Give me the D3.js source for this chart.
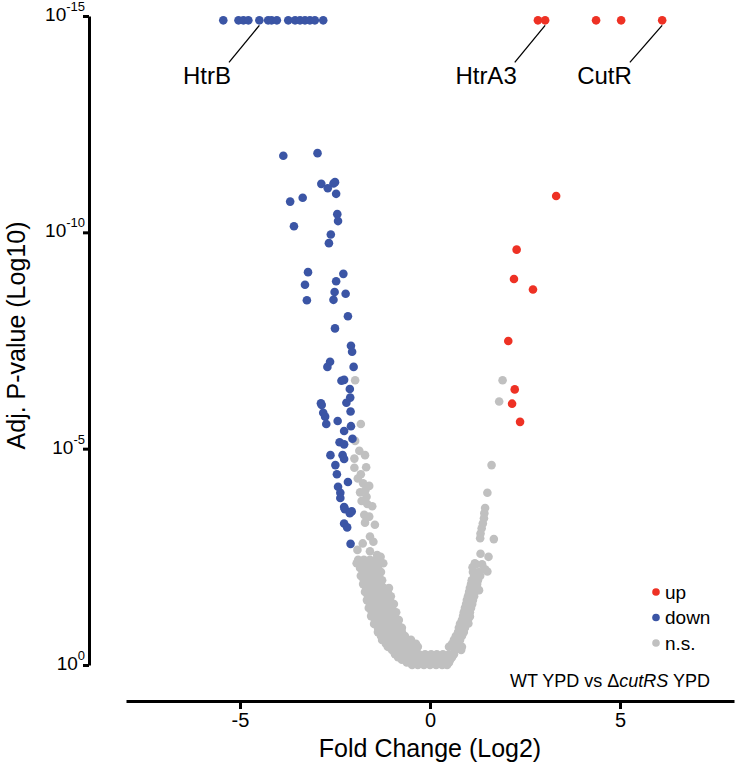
<!DOCTYPE html>
<html>
<head>
<meta charset="utf-8">
<script src="https://cdn.jsdelivr.net/npm/d3@7"></script>
<style>
  body { margin: 0; background: #fff; }
  text { font-family: "Liberation Sans", Arial, sans-serif; fill: #000; }
</style>
</head>
<body>
<div id="chart"></div>
<script>
// fold change (log2), -log10(adj. p)
const upPoints = [
  [2.84, 14.9], [3.03, 14.9], [4.37, 14.9], [5.03, 14.9], [6.11, 14.9],
  [3.32, 10.84], [2.28, 9.60], [2.21, 8.92], [2.71, 8.68], [2.06, 7.49],
  [2.23, 6.37], [2.16, 6.04], [2.37, 5.62]
];

const downPoints = [
  [-5.44, 14.9], [-5.04, 14.9], [-4.91, 14.9], [-4.78, 14.9], [-4.49, 14.9],
  [-4.26, 14.9], [-4.17, 14.9], [-4.03, 14.9], [-3.73, 14.9], [-3.55, 14.9],
  [-3.42, 14.9], [-3.29, 14.9], [-3.16, 14.9], [-3.03, 14.9], [-2.81, 14.9],
  [-3.86, 11.77], [-2.96, 11.83], [-2.86, 11.12], [-2.69, 11.02], [-2.54, 11.13],
  [-2.50, 11.16], [-2.47, 10.89], [-3.35, 10.80], [-3.68, 10.71], [-2.44, 10.42],
  [-2.42, 10.26], [-3.58, 10.14], [-2.61, 9.95], [-2.66, 9.75], [-3.21, 9.08],
  [-3.29, 8.79], [-2.28, 9.04], [-2.47, 8.87], [-2.51, 8.62], [-2.22, 8.58],
  [-3.24, 8.43], [-2.54, 8.44], [-2.16, 8.06], [-2.50, 7.78], [-2.08, 7.38],
  [-2.05, 7.24], [-2.63, 7.01], [-2.70, 6.89], [-2.01, 6.89], [-2.33, 6.57],
  [-2.26, 6.59], [-2.11, 6.38], [-2.10, 6.18], [-2.20, 6.06], [-2.87, 6.05],
  [-2.85, 6.01], [-2.09, 5.86], [-2.81, 5.83], [-2.76, 5.74], [-2.73, 5.57],
  [-2.43, 5.64], [-2.08, 5.52], [-2.26, 5.41], [-2.04, 5.23], [-2.38, 5.15],
  [-2.26, 5.10], [-2.62, 4.85], [-2.30, 4.85], [-2.26, 4.76], [-2.49, 4.62],
  [-2.45, 4.41], [-2.16, 4.23], [-2.42, 4.12], [-2.36, 3.98], [-2.36, 3.86],
  [-2.26, 3.65], [-2.24, 3.60], [-2.06, 3.55], [-2.11, 3.51], [-2.26, 3.27],
  [-2.18, 3.18], [-2.09, 2.80]
];

const nsPoints = [
  // scattered, left
  [-1.97, 6.58], [-1.82, 5.57], [-1.97, 5.18], [-1.86, 4.95], [-1.71, 4.85],
  [-1.99, 4.77], [-1.99, 4.56], [-1.68, 4.57], [-1.82, 4.41], [-1.90, 4.31],
  [-1.76, 4.20], [-1.60, 4.14], [-1.70, 4.04], [-1.84, 3.99], [-1.67, 3.89],
  [-1.80, 3.79], [-1.65, 3.72], [-1.52, 3.67], [-1.73, 3.47], [-1.60, 3.43],
  [-1.71, 3.29], [-1.45, 3.24], [-1.58, 2.97], [-1.49, 2.85], [-1.77, 2.81],
  [-1.58, 2.63], [-1.91, 2.66], [-1.39, 2.54], [-1.30, 2.50], [-1.23, 2.35],
  [-1.93, 2.35], [-1.49, 2.27],
  // scattered, right
  [1.91, 6.58], [1.82, 6.09], [1.62, 4.62], [1.51, 3.98], [1.45, 3.63],
  [1.43, 3.51], [1.42, 3.39], [1.39, 3.27], [1.36, 3.16], [1.33, 3.04],
  [1.32, 2.93], [1.68, 2.91], [1.33, 2.57], [1.54, 2.50], [1.18, 2.35],
  [1.12, 2.26], [1.45, 2.21], [1.51, 2.16], [1.10, 1.96], [1.08, 1.85],
  [1.29, 1.73], [1.05, 1.62], [1.01, 1.50], [1.10, 1.41], [0.97, 1.31],
  [0.92, 1.19], [0.88, 1.08], [0.83, 0.96], [0.79, 0.85], [0.74, 0.73],
  [1.05, 1.12], [1.01, 0.96],
  // dense left arm
  [-1.89, 2.43], [-1.74, 2.43], [-1.58, 2.43], [-1.42, 2.43],
  [-1.82, 2.33], [-1.66, 2.33], [-1.50, 2.33], [-1.34, 2.33],
  [-1.84, 2.24], [-1.68, 2.24], [-1.53, 2.24], [-1.37, 2.24],
  [-1.76, 2.15], [-1.61, 2.15], [-1.45, 2.15], [-1.29, 2.15],
  [-1.82, 2.06], [-1.66, 2.06], [-1.50, 2.06], [-1.34, 2.06],
  [-1.74, 1.96], [-1.58, 1.96], [-1.42, 1.96], [-1.26, 1.96],
  [-1.76, 1.87], [-1.61, 1.87], [-1.45, 1.87], [-1.29, 1.87],
  [-1.68, 1.78], [-1.53, 1.78], [-1.37, 1.78], [-1.21, 1.78], [-1.08, 1.78],
  [-1.71, 1.69], [-1.55, 1.69], [-1.39, 1.69], [-1.24, 1.69], [-1.11, 1.69],
  [-1.63, 1.59], [-1.47, 1.59], [-1.32, 1.59], [-1.16, 1.59], [-1.03, 1.59],
  [-1.66, 1.50], [-1.50, 1.50], [-1.34, 1.50], [-1.18, 1.50], [-1.05, 1.50],
  [-1.58, 1.41], [-1.42, 1.41], [-1.26, 1.41], [-1.11, 1.41], [-0.95, 1.41],
  [-1.61, 1.32], [-1.45, 1.32], [-1.29, 1.32], [-1.13, 1.32], [-1.00, 1.32],
  [-1.53, 1.22], [-1.37, 1.22], [-1.21, 1.22], [-1.05, 1.22], [-0.89, 1.22],
  [-1.55, 1.13], [-1.39, 1.13], [-1.24, 1.13], [-1.08, 1.13], [-0.92, 1.13],
  [-1.45, 1.04], [-1.29, 1.04], [-1.13, 1.04], [-0.97, 1.04], [-0.82, 1.04],
  [-1.47, 0.95], [-1.32, 0.95], [-1.16, 0.95], [-1.00, 0.95], [-0.84, 0.95],
  [-1.37, 0.86], [-1.21, 0.86], [-1.05, 0.86], [-0.89, 0.86], [-0.74, 0.86],
  [-1.37, 0.76], [-1.21, 0.76], [-1.05, 0.76], [-0.89, 0.76], [-0.74, 0.76],
  [-1.29, 0.67], [-1.13, 0.67], [-0.97, 0.67], [-0.82, 0.67], [-0.66, 0.67],
  [-1.26, 0.58], [-1.11, 0.58], [-0.95, 0.58], [-0.79, 0.58], [-0.63, 0.58], [-0.50, 0.58],
  [-1.16, 0.49], [-1.00, 0.49], [-0.84, 0.49], [-0.68, 0.49], [-0.53, 0.49], [-0.37, 0.49],
  [-1.11, 0.42], [-0.95, 0.42], [-0.79, 0.42], [-0.63, 0.42], [-0.47, 0.42], [-0.32, 0.42],
  [-1.00, 0.35], [-0.84, 0.35], [-0.68, 0.35], [-0.53, 0.35], [-0.37, 0.35], [-0.45, 0.33],
  // dense right arm
  [1.21, 2.33], [1.37, 2.33], [1.13, 2.15], [1.29, 2.15],
  [1.16, 2.06], [1.32, 2.06], [1.11, 1.96], [1.26, 1.96],
  [1.08, 1.87], [1.24, 1.87], [1.05, 1.78], [1.21, 1.78],
  [1.03, 1.69], [1.18, 1.69], [1.00, 1.59], [1.16, 1.59],
  [0.97, 1.50], [1.13, 1.50], [0.95, 1.41], [1.11, 1.41],
  [0.92, 1.32], [1.08, 1.32], [0.89, 1.22], [1.05, 1.22],
  [0.87, 1.13], [1.03, 1.13], [0.84, 1.04], [1.00, 1.04],
  [0.79, 0.95], [0.95, 0.95], [0.76, 0.86], [0.92, 0.86],
  [0.74, 0.76], [0.89, 0.76], [0.68, 0.67], [0.84, 0.67],
  [0.63, 0.58], [0.79, 0.58], [0.58, 0.49], [0.74, 0.49],
  [0.50, 0.42], [0.68, 0.42], [0.84, 0.42], [0.66, 0.35], [0.82, 0.35],
  // bottom of the V
  [-0.92, 0.25], [-0.76, 0.25], [-0.61, 0.25], [-0.45, 0.25], [-0.29, 0.25], [-0.13, 0.25],
  [0.03, 0.25], [0.18, 0.25], [0.34, 0.25], [0.50, 0.25], [0.63, 0.25],
  [-0.84, 0.18], [-0.68, 0.18], [-0.53, 0.18], [-0.37, 0.18], [-0.21, 0.18], [-0.05, 0.18],
  [0.11, 0.18], [0.26, 0.18], [0.42, 0.18], [0.58, 0.18],
  [-0.74, 0.12], [-0.58, 0.12], [-0.42, 0.12], [-0.26, 0.12], [-0.11, 0.12],
  [0.05, 0.12], [0.21, 0.12], [0.37, 0.12], [0.53, 0.12],
  [-0.61, 0.06], [-0.45, 0.06], [-0.29, 0.06], [-0.13, 0.06], [0.03, 0.06],
  [0.18, 0.06], [0.34, 0.06], [0.50, 0.06],
  [-0.47, 0.0], [-0.32, 0.0], [-0.16, 0.0], [0.0, 0.0], [0.16, 0.0], [0.32, 0.0], [0.45, 0.0]
];

const xTicks = [-5, 0, 5];
const yTicks = [0, 5, 10, 15];
const legendItems = ["up", "down", "n.s."];
const legendColors = ["#ee3124", "#3b55a5", "#c0c0c0"];

// gene labels: [label, fold change of the pointed dot, label x offset]
const geneLabels = [
  ["HtrB", -4.49, -0.8],
  ["HtrA3", 3.03, -0.8],
  ["CutR", 6.11, -0.85]
];

const width = 735, height = 766;

const svg = d3.select("#chart").append("svg")
  .attr("width", width)
  .attr("height", height);

const x = d3.scaleLinear().domain([-8, 8]).range([126, 734]);
const y = d3.scaleLinear().domain([0, 15]).range([665, 16]);

// y axis
const yAxis = svg.append("g")
  .attr("transform", "translate(89,0)")
  .call(d3.axisLeft(y).tickValues(yTicks).tickSize(6).tickSizeOuter(0).tickFormat(""));
yAxis.select(".domain").attr("stroke-width", 3);
yAxis.selectAll(".tick line").attr("stroke-width", 3);

yTicks.forEach(t => {
  const lab = svg.append("text")
    .attr("x", 85)
    .attr("y", y(t) + 5)
    .attr("text-anchor", "end")
    .style("font-size", "19px");
  lab.append("tspan").text("10");
  lab.append("tspan")
    .attr("dy", -10)
    .style("font-size", "13px")
    .text(t === 0 ? "0" : "-" + t);
});

svg.append("text")
  .attr("transform", `translate(25,${(y(0) + y(15)) / 2 - 5}) rotate(-90)`)
  .attr("text-anchor", "middle")
  .style("font-size", "25px")
  .text("Adj. P-value (Log10)");

// x axis
const xAxis = svg.append("g")
  .attr("transform", "translate(0,701)")
  .call(d3.axisBottom(x).tickValues(xTicks).tickSize(8).tickSizeOuter(0).tickFormat(d => String(d)));
xAxis.select(".domain").attr("stroke-width", 3);
xAxis.selectAll(".tick line").attr("stroke-width", 3);
xAxis.selectAll(".tick text")
  .attr("y", 12)
  .style("font-size", "20px")
  .style("font-family", "Liberation Sans, Arial, sans-serif")
  .attr("fill", "#000");

svg.append("text")
  .attr("x", x(0))
  .attr("y", 757)
  .attr("text-anchor", "middle")
  .style("font-size", "25px")
  .text("Fold Change (Log2)");

// points
const r = 4.3;
svg.append("g").selectAll("circle")
  .data(nsPoints)
  .join("circle")
  .attr("cx", d => x(d[0]))
  .attr("cy", d => y(d[1]))
  .attr("r", r)
  .attr("fill", legendColors[2]);

svg.append("g").selectAll("circle")
  .data(downPoints)
  .join("circle")
  .attr("cx", d => x(d[0]))
  .attr("cy", d => y(d[1]))
  .attr("r", r)
  .attr("fill", legendColors[1]);

svg.append("g").selectAll("circle")
  .data(upPoints)
  .join("circle")
  .attr("cx", d => x(d[0]))
  .attr("cy", d => y(d[1]))
  .attr("r", r)
  .attr("fill", legendColors[0]);

// gene labels with pointer lines
geneLabels.forEach(([name, fc, off]) => {
  const x0 = x(fc), y0 = y(14.9) + 5;
  const x1 = x(fc + off), y1 = y0 + 37;
  svg.append("line")
    .attr("x1", x0).attr("y1", y0)
    .attr("x2", x1).attr("y2", y1)
    .attr("stroke", "#000")
    .attr("stroke-width", 1.3);
  svg.append("text")
    .attr("x", x1 + 2)
    .attr("y", y1 + 22)
    .attr("text-anchor", "end")
    .style("font-size", "24px")
    .text(name);
});

// legend
const legend = svg.append("g").attr("transform", "translate(656,592)");
legendItems.forEach((name, i) => {
  legend.append("circle")
    .attr("cx", 0)
    .attr("cy", i * 25.5)
    .attr("r", 3.8)
    .attr("fill", legendColors[i]);
  legend.append("text")
    .attr("x", 9)
    .attr("y", i * 25.5 + 6.5)
    .style("font-size", "19px")
    .text(name);
});

// comparison note
const note = svg.append("text")
  .attr("x", 710)
  .attr("y", 687)
  .attr("text-anchor", "end")
  .style("font-size", "18px");
note.append("tspan").text("WT YPD vs ");
note.append("tspan").text("\u0394");
note.append("tspan").style("font-style", "italic").text("cutRS");
note.append("tspan").text(" YPD");
</script>
</body>
</html>
